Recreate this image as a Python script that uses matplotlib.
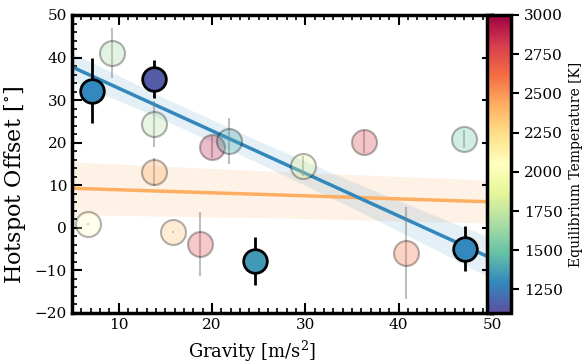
import numpy as np
import matplotlib
matplotlib.use("Agg")
import matplotlib.pyplot as plt
from matplotlib.ticker import MultipleLocator
from matplotlib.colors import Normalize

plt.rcParams['font.family'] = ['DejaVu Serif']
plt.rcParams['mathtext.fontset'] = 'dejavuserif'

# Highlighted planets
hl_g = [7.1, 13.8, 24.6, 47.1]
hl_off = [32.2, 35.0, -7.8, -4.9]
hl_err = [7.6, 4.5, 5.6, 5.3]
hl_teq = [1300, 1150, 1350, 1300]

# Faded planets
fd_g = [9.3, 13.8, 13.8, 20.0, 21.8, 29.8, 36.3, 47.0, 6.7, 15.8, 18.7, 40.8]
fd_off = [41.0, 24.4, 13.1, 19.0, 20.4, 14.5, 20.2, 20.9, 0.9, -1.0, -3.8, -5.9]
fd_err = [5.9, 5.5, 3.2, 2.5, 5.5, 2.4, 2.7, 2.1, 0.3, 0.3, 7.5, 10.7]
fd_teq = [1650, 1700, 2450, 2900, 1400, 1850, 2800, 1500, 2050, 2350, 2750, 2600]

# Regression fits
blue_x = [5, 15, 25, 35, 45, 50]
blue_mid = [37.8, 27.8, 17.8, 7.8, -2.2, -7.2]
blue_lo = [34.5, 25.2, 15.2, 4.7, -6.3, -12.0]
blue_hi = [41.1, 30.4, 20.4, 10.9, 1.9, -2.4]

orange_x = [5, 27.5, 50]
orange_mid = [9.3, 7.7, 6.1]
orange_lo = [3.1, 2.3, 1.1]
orange_hi = [15.5, 13.2, 11.2]

tmin, tmax = 1100, 3000
cbar_ticks = [1250, 1500, 1750, 2000, 2250, 2500, 2750, 3000]

cmap = plt.get_cmap('Spectral_r')
norm = Normalize(vmin=tmin, vmax=tmax)

fig = plt.figure(figsize=(5.84, 3.64), dpi=100)
ax = fig.add_axes([72/584, 51/364, 420/584, 298/364])

# bands and lines
ax.fill_between(orange_x, orange_lo, orange_hi, color='#fdae61', alpha=0.15, lw=0, zorder=1)
ax.plot(orange_x, orange_mid, color='#fdae61', lw=2.5, zorder=2)
ax.fill_between(blue_x, blue_lo, blue_hi, color='#3288bd', alpha=0.13, lw=0, zorder=1)
ax.plot(blue_x, blue_mid, color='#3288bd', lw=2.5, zorder=2)

# faded points
for g, o, e, t in zip(fd_g, fd_off, fd_err, fd_teq):
    ax.errorbar(g, o, yerr=e, fmt='none', ecolor='grey', elinewidth=1.5, alpha=0.5, zorder=3)
    ax.plot(g, o, 'o', ms=18, mfc=cmap(norm(t)), mec='black', mew=1.5, alpha=0.3, zorder=3)

# highlighted points
for g, o, e, t in zip(hl_g, hl_off, hl_err, hl_teq):
    ax.errorbar(g, o, yerr=e, fmt='none', ecolor='black', elinewidth=2, zorder=4)
    ax.plot(g, o, 'o', ms=17, mfc=cmap(norm(t)), mec='black', mew=2, zorder=5)

ax.set_xlim(5, 50)
ax.set_ylim(-20, 50)
ax.xaxis.set_major_locator(MultipleLocator(10))
ax.xaxis.set_minor_locator(MultipleLocator(1))
ax.yaxis.set_major_locator(MultipleLocator(10))
ax.yaxis.set_minor_locator(MultipleLocator(2))
ax.tick_params(which='both', direction='in', top=True, right=True, labelsize=11)
ax.tick_params(which='major', length=7, width=1.5)
ax.tick_params(which='minor', length=3.5, width=1.2)
for s in ax.spines.values():
    s.set_linewidth(2.5)

ax.set_xlabel('Gravity [m/s$^2$]', fontsize=13)
ax.set_ylabel('Hotspot Offset [$^{\\circ}$]', fontsize=16)
ax.xaxis.set_label_coords(0.43, -0.085)
ax.yaxis.set_label_coords(-0.105, 0.43)

cax = fig.add_axes([487/584, 51/364, 24/584, 298/364])
sm = plt.cm.ScalarMappable(norm=norm, cmap=cmap)
cb = fig.colorbar(sm, cax=cax, ticks=cbar_ticks)
cb.outline.set_linewidth(2.5)
cax.tick_params(labelsize=11, length=6, width=1.5)
cb.set_label('Equilibrium Temperature [K]', fontsize=10)

fig.savefig('out.png', dpi=100)
